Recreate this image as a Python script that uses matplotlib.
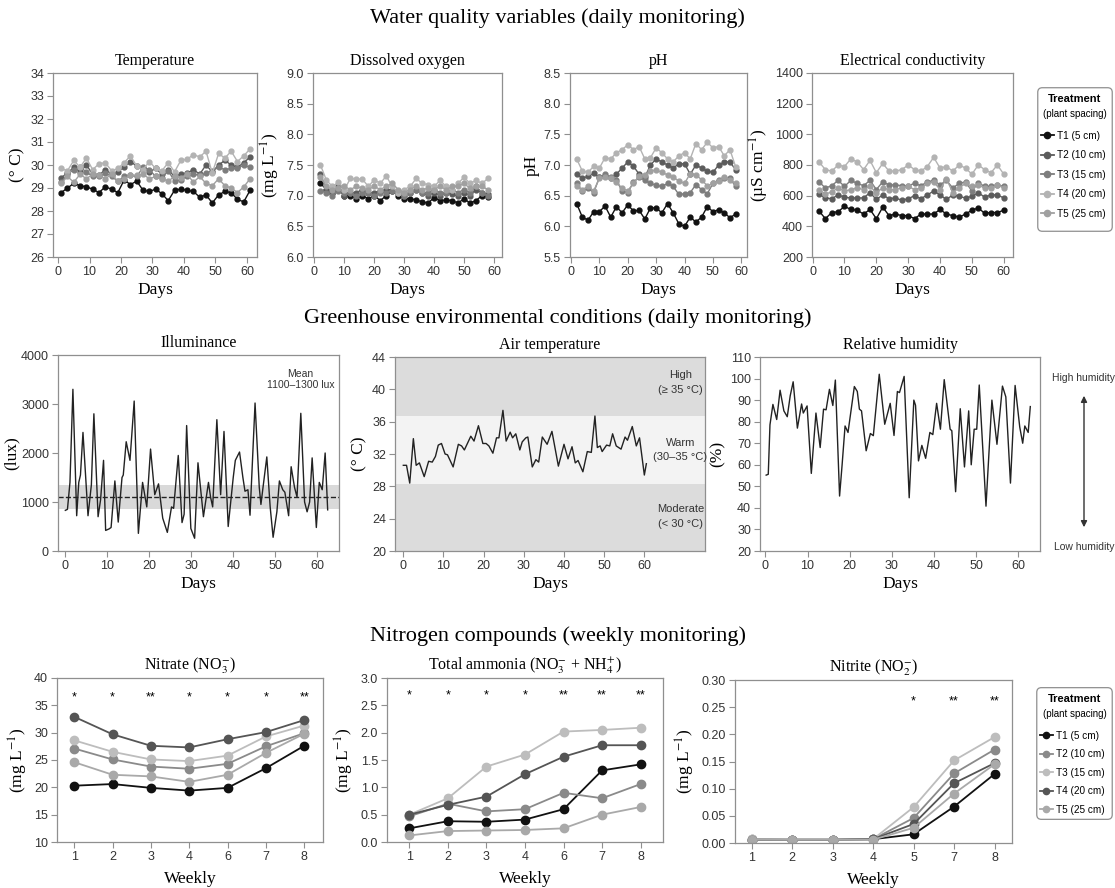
import numpy as np
import matplotlib
matplotlib.use("Agg")
import matplotlib.pyplot as plt
from matplotlib.lines import Line2D
from matplotlib.patches import FancyBboxPatch, FancyArrowPatch

plt.rcParams['font.family'] = ['Liberation Sans', 'DejaVu Sans']
plt.rcParams['mathtext.fontset'] = 'stix'

W, H = 1115, 888
SERIF = ['Liberation Serif', 'DejaVu Serif']

treatments = ['T1 (5 cm)', 'T2 (10 cm)', 'T3 (15 cm)', 'T4 (20 cm)', 'T5 (25 cm)']

# ---- water quality (daily) ----
temp_days = np.arange(1, 62, 2)
temp = [
    [28.8, 29.0, 29.2, 29.1, 29.05, 28.95, 28.8, 29.05, 28.95, 28.8, 29.35, 29.15, 29.3, 28.9, 28.85, 28.95,
     28.75, 28.45, 28.9, 28.95, 28.9, 28.85, 28.6, 28.7, 28.35, 28.7, 28.85, 28.8, 28.5, 28.4, 28.9],
    [29.45, 29.65, 29.9, 29.7, 30.0, 29.6, 29.55, 29.8, 29.6, 29.7, 29.9, 30.15, 29.95, 29.85, 29.7, 29.85,
     29.6, 29.8, 29.5, 29.6, 29.65, 29.8, 29.6, 30.0, 29.7, 30.0, 30.2, 30.0, 29.9, 30.1, 30.35],
    [29.25, 29.6, 29.8, 29.9, 29.7, 29.5, 29.5, 29.65, 29.5, 29.3, 29.5, 29.55, 29.5, 29.9, 29.8, 29.5,
     29.45, 29.75, 29.3, 29.35, 29.5, 29.6, 29.55, 29.65, 29.75, 29.9, 29.8, 29.85, 29.85, 30.0, 29.9],
    [29.85, 29.75, 30.2, 29.9, 30.3, 29.8, 30.05, 30.1, 29.75, 29.85, 30.1, 30.4, 29.95, 29.8, 30.15, 29.85,
     29.75, 30.1, 29.7, 30.2, 30.25, 30.45, 30.35, 30.6, 29.65, 30.5, 30.3, 30.6, 30.15, 30.4, 30.7],
    [29.2, 29.5, 29.25, 29.6, 29.4, 29.6, 29.55, 29.4, 29.6, 29.3, 29.4, 29.55, 29.55, 29.6, 29.4, 29.5,
     29.4, 29.3, 29.5, 29.45, 29.6, 29.25, 29.5, 29.2, 29.1, 29.4, 29.1, 29.0, 28.8, 29.05, 29.4],
]

do_days = np.arange(2, 60, 2)
do = [
    [7.2, 7.1, 7.05, 7.1, 7.0, 7.0, 6.95, 7.0, 6.95, 7.0, 6.92, 7.0, 7.08, 7.0, 6.95, 6.95, 6.93, 6.9, 6.88,
     6.97, 6.92, 6.93, 6.92, 6.88, 6.95, 6.88, 6.92, 7.0, 6.98],
    [7.35, 7.1, 7.05, 7.15, 7.0, 7.05, 7.05, 7.1, 7.05, 7.05, 7.08, 7.1, 7.1, 7.05, 7.0, 7.05, 7.1, 7.05, 7.0,
     7.05, 7.0, 7.05, 7.02, 7.0, 7.05, 7.0, 7.1, 7.05, 7.02],
    [7.08, 7.05, 7.0, 7.08, 7.05, 7.05, 7.0, 7.05, 7.05, 7.0, 7.05, 7.05, 7.08, 7.05, 7.0, 7.05, 7.1, 7.05, 7.05,
     7.1, 7.05, 7.05, 7.1, 7.05, 7.1, 7.05, 7.15, 7.05, 7.0],
    [7.5, 7.25, 7.15, 7.22, 7.1, 7.28, 7.27, 7.27, 7.15, 7.26, 7.2, 7.32, 7.15, 7.05, 7.1, 7.15, 7.28, 7.2, 7.18,
     7.15, 7.25, 7.15, 7.1, 7.2, 7.3, 7.2, 7.25, 7.2, 7.28],
    [7.3, 7.15, 7.1, 7.12, 7.15, 7.1, 7.15, 7.12, 7.1, 7.15, 7.1, 7.15, 7.2, 7.1, 7.05, 7.1, 7.15, 7.1, 7.12,
     7.1, 7.15, 7.1, 7.15, 7.15, 7.2, 7.12, 7.15, 7.15, 7.1],
]

ph_days = np.arange(2, 60, 2)
ph = [
    [6.37, 6.15, 6.1, 6.24, 6.24, 6.33, 6.15, 6.32, 6.22, 6.35, 6.25, 6.26, 6.12, 6.3, 6.3, 6.22, 6.37, 6.22,
     6.04, 6.0, 6.15, 6.07, 6.15, 6.32, 6.24, 6.27, 6.22, 6.14, 6.2],
    [6.85, 6.78, 6.82, 6.87, 6.8, 6.82, 6.78, 6.85, 6.95, 7.05, 6.98, 6.85, 6.8, 7.0, 7.1, 7.05, 7.0, 6.95,
     7.02, 7.02, 6.85, 7.0, 6.95, 6.9, 6.88, 7.0, 7.05, 7.05, 6.92],
    [6.7, 6.57, 6.62, 6.55, 6.8, 6.85, 6.8, 6.75, 6.58, 6.55, 6.72, 6.8, 6.75, 6.7, 6.67, 6.65, 6.7, 6.65,
     6.52, 6.53, 6.55, 6.68, 6.6, 6.53, 6.7, 6.76, 6.78, 6.78, 6.65],
    [7.1, 6.9, 6.88, 6.98, 6.95, 7.12, 7.1, 7.2, 7.25, 7.33, 7.25, 7.3, 7.1, 7.12, 7.28, 7.2, 7.1, 7.05,
     7.15, 7.2, 7.1, 7.35, 7.25, 7.37, 7.28, 7.3, 7.15, 7.25, 6.97],
    [6.65, 6.6, 6.65, 6.58, 6.78, 6.8, 6.78, 6.72, 6.62, 6.58, 6.7, 6.82, 6.84, 6.9, 6.92, 6.88, 6.84, 6.8,
     6.74, 6.7, 6.86, 6.84, 6.76, 6.66, 6.7, 6.74, 6.8, 6.76, 6.7],
]

ec_days = np.arange(2, 61, 2)
ec = [
    [500, 450, 490, 495, 530, 510, 505, 480, 510, 450, 525, 470, 480, 470, 470, 450, 480, 480, 480, 510,
     480, 470, 460, 480, 505, 520, 485, 490, 490, 505],
    [610, 585, 580, 605, 590, 585, 585, 585, 620, 575, 605, 580, 585, 570, 580, 600, 580, 605, 630, 605,
     575, 605, 595, 585, 595, 620, 590, 605, 605, 585],
    [690, 650, 665, 700, 660, 700, 680, 665, 700, 640, 690, 670, 670, 665, 665, 680, 665, 690, 700, 670,
     700, 650, 680, 690, 630, 685, 660, 660, 670, 660],
    [820, 770, 760, 800, 790, 840, 820, 770, 830, 750, 810, 760, 760, 770, 800, 770, 760, 790, 850, 780,
     790, 760, 800, 780, 740, 800, 770, 750, 800, 740],
    [640, 610, 625, 650, 630, 640, 650, 640, 660, 620, 650, 640, 640, 650, 660, 640, 650, 680, 690, 640,
     710, 620, 650, 680, 660, 670, 650, 650, 670, 650],
]

# ---- greenhouse (daily) ----
lux_days = [0.0, 0.5, 1.1, 1.8, 2.7, 3.2, 3.6, 4.2, 5.4, 6.2, 6.8, 7.8, 8.4, 9.1, 9.6, 10.4, 10.9, 11.8,
            12.6, 13.5, 13.8, 14.5, 15.4, 16.4, 17.4, 18.4, 19.4, 20.3, 21.3, 22.2, 23.2, 24.3, 25.3, 25.8,
            26.9, 27.8, 28.3, 28.9, 29.9, 30.8, 31.6, 32.9, 34.1, 34.6, 35.1, 36.1, 37.0, 37.8, 38.8, 40.0,
            40.5, 41.5, 42.3, 42.8, 43.5, 44.0, 45.2, 46.2, 46.6, 47.1, 48.0, 48.8, 49.5, 50.4, 51.0, 51.8,
            52.3, 53.2, 53.8, 54.6, 55.2, 56.1, 57.0, 57.6, 58.2, 58.8, 59.8, 60.5, 61.2, 61.9, 62.5]
lux = [830, 850, 1400, 3300, 720, 1400, 1550, 2420, 720, 1350, 2800, 700, 1050, 1850, 420, 450, 480, 1430,
       590, 1500, 1550, 2230, 1850, 3060, 360, 1400, 900, 2080, 1150, 1370, 670, 380, 900, 870,
       1950, 580, 750, 2560, 460, 260, 1800, 700, 1400, 1100, 900, 2680, 1150, 2440, 500, 1500,
       1850, 2020, 1500, 1220, 1250, 730, 3020, 1300, 950, 1300, 1920, 900, 280, 800, 1430, 1250,
       1200, 720, 1720, 1300, 1100, 2810, 1000, 800, 1000, 1900, 480, 1400, 1250, 2000, 840]
lux_band = (850, 1350)
lux_mean = 1100

air_days = [0, 0.8, 1.6, 2.5, 3.2, 4.0, 5.2, 6.3, 7.2, 8.0, 8.7, 9.5, 10.4, 11.0, 12.4, 13.7, 14.5, 15.2,
            16.8, 17.6, 18.7, 19.8, 20.6, 21.3, 22.3, 23.2, 23.8, 24.8, 25.6, 26.6, 27.2, 28.0, 29.0, 29.6,
            30.5, 31.0, 32.1, 33.0, 33.7, 34.6, 35.8, 37.0, 38.6, 40.0, 41.0, 42.0, 42.8, 43.5, 44.7, 45.8,
            46.8, 47.7, 48.3, 49.0, 49.5, 50.6, 51.4, 52.1, 53.0, 54.2, 55.2, 55.8, 57.0, 58.0, 58.8, 60.0, 60.5]
air_temp = [30.6, 30.6, 28.4, 33.9, 30.6, 30.9, 29.2, 31.1, 31.0, 31.7, 33.1, 33.3, 32.0, 31.9, 30.4, 33.2,
            33.0, 32.5, 34.2, 33.6, 35.5, 33.3, 33.3, 33.0, 32.1, 34.0, 34.0, 37.4, 33.6, 34.7, 34.0, 34.5,
            32.5, 33.5, 34.0, 34.1, 30.4, 31.3, 31.0, 34.1, 33.2, 34.8, 30.5, 33.2, 31.4, 32.9, 30.9, 31.2,
            29.8, 32.3, 32.2, 36.7, 32.8, 33.0, 32.3, 33.1, 33.0, 34.5, 33.0, 32.6, 34.1, 33.7, 35.4, 33.0,
            34.0, 29.4, 30.8]
air_zones = [(28.3, 36.7)]

rh_days = [0.2, 0.7, 1.1, 1.8, 2.7, 3.5, 4.4, 5.2, 5.9, 6.6, 7.6, 8.6, 9.0, 9.9, 10.9, 12.0, 13.0, 13.8,
           14.4, 15.2, 16.0, 16.6, 17.6, 18.2, 18.9, 19.6, 21.1, 21.8, 22.3, 22.8, 23.9, 24.9, 25.6, 27.0,
           28.3, 29.6, 30.5, 31.3, 31.8, 32.9, 34.1, 35.2, 35.6, 36.3, 37.1, 38.0, 39.0, 39.7, 40.6, 41.5,
           42.4, 43.8, 44.2, 45.1, 46.2, 47.2, 48.2, 48.8, 49.5, 50.1, 50.7, 52.3, 53.7, 54.9, 56.2, 57.0,
           58.1, 59.2, 60.3, 61.0, 61.5, 62.3, 62.8]
rh = [55.2, 55.6, 78.5, 88.0, 81.0, 94.6, 85.0, 82.3, 92.0, 98.5, 77.0, 88.2, 84.0, 87.3, 56.0, 84.0, 68.0,
      85.8, 85.5, 95.0, 87.5, 99.3, 45.5, 60.0, 78.0, 75.0, 96.3, 94.0, 85.8, 85.0, 66.5, 74.5, 73.5, 102.0,
      78.8, 88.5, 73.6, 94.0, 93.5, 101.0, 44.7, 90.0, 87.6, 61.8, 69.0, 63.0, 75.0, 74.0, 88.5, 76.5,
      99.5, 76.5, 75.8, 47.5, 86.0, 59.0, 85.0, 60.0, 76.5, 76.5, 97.0, 40.8, 90.0, 69.5, 96.5, 91.5,
      51.5, 96.8, 77.5, 70.0, 78.0, 75.0, 87.0]

# ---- nitrogen (weekly) ----
nitrate_weeks = ['1', '2', '3', '4', '6', '7', '8']
nitrate = [
    [20.3, 20.6, 19.9, 19.4, 19.9, 23.5, 27.6],
    [27.1, 25.1, 23.8, 23.4, 24.3, 27.5, 29.9],
    [28.6, 26.5, 25.1, 24.8, 25.8, 29.3, 31.3],
    [32.9, 29.7, 27.6, 27.3, 28.8, 30.1, 32.3],
    [24.6, 22.3, 22.0, 21.0, 22.3, 26.3, 29.8],
]
nitrate_sig = ['*', '*', '**', '*', '*', '*', '**']

ammonia_weeks = ['1', '2', '3', '4', '6', '7', '8']
ammonia = [
    [0.25, 0.38, 0.37, 0.41, 0.60, 1.31, 1.42],
    [0.47, 0.70, 0.56, 0.60, 0.90, 0.80, 1.06],
    [0.50, 0.80, 1.38, 1.60, 2.02, 2.05, 2.09],
    [0.50, 0.68, 0.83, 1.24, 1.56, 1.77, 1.77],
    [0.12, 0.20, 0.21, 0.22, 0.25, 0.50, 0.64],
]
ammonia_sig = ['*', '*', '*', '*', '**', '**', '**']

nitrite_weeks = ['1', '2', '3', '4', '5', '7', '8']
nitrite = [
    [0.006, 0.006, 0.006, 0.007, 0.016, 0.067, 0.127],
    [0.007, 0.006, 0.006, 0.007, 0.046, 0.128, 0.172],
    [0.007, 0.006, 0.006, 0.007, 0.066, 0.152, 0.195],
    [0.006, 0.006, 0.006, 0.007, 0.035, 0.110, 0.147],
    [0.006, 0.006, 0.006, 0.006, 0.028, 0.091, 0.145],
]
nitrite_sig = ['', '', '', '', '*', '**', '**']

daily_colors = ['#111111', '#5c5c5c', '#7d7d7d', '#b3b3b3', '#a0a0a0']
weekly_colors = ['#111111', '#8a8a8a', '#bdbdbd', '#555555', '#a9a9a9']

fig = plt.figure(figsize=(W / 100, H / 100), dpi=100)


def box(l, t, r, b):
    return fig.add_axes([l / W, 1 - b / H, (r - l) / W, (b - t) / H])


def style(ax, title, ylabel, xlabel, ypad=3):
    for s in ax.spines.values():
        s.set_color('#8f8f8f')
        s.set_linewidth(0.9)
    ax.tick_params(direction='out', length=4, width=0.8, color='#8f8f8f',
                   labelsize=9, labelcolor='#333333', pad=2.5)
    ax.set_title(title, family=SERIF, fontsize=11.5, pad=6)
    ax.set_ylabel(ylabel, family=SERIF, fontsize=12.5, labelpad=ypad)
    ax.set_xlabel(xlabel, family=SERIF, fontsize=12.5, labelpad=3)


def daily_panel(rect, days, series, title, ylabel, ylim, yticks, xlim, fmt=None):
    ax = box(*rect)
    for vals, c in zip(series, daily_colors):
        ax.plot(days, vals, color=c, lw=1.0, marker='o', ms=3.5)
    ax.set_xlim(*xlim)
    ax.set_ylim(*ylim)
    ax.set_xticks(range(0, 61, 10))
    ax.set_yticks(yticks)
    if fmt:
        ax.set_yticklabels([fmt % v for v in yticks])
    style(ax, title, ylabel, 'Days')
    return ax


def weekly_panel(rect, weeks, series, sig, sig_y, err, title, ylim, yticks, xlim, fmt):
    ax = box(*rect)
    x = np.arange(len(weeks))
    for vals, c in zip(series, weekly_colors):
        ax.errorbar(x, vals, yerr=err, color=c, lw=1.3, marker='o', ms=6,
                    elinewidth=1, capsize=0)
    for xi, s in zip(x, sig):
        ax.text(xi, sig_y, s, ha='center', va='center', fontsize=9)
    ax.set_xticks(x)
    ax.set_xticklabels(weeks)
    ax.set_xlim(*xlim)
    ax.set_ylim(*ylim)
    ax.set_yticks(yticks)
    ax.set_yticklabels([fmt % v for v in yticks])
    style(ax, title, '(mg L$^{-1}$)', 'Weekly')
    ax.xaxis.labelpad = 6
    return ax


def legend_box(l, t, r, b, colors, step):
    lax = box(l, t, r, b)
    lax.axis('off')
    lax.set_xlim(0, 1)
    lax.set_ylim(0, 1)
    lax.add_patch(FancyBboxPatch((0.01, 0.005), 0.98, 0.99, boxstyle='round,pad=0,rounding_size=0.06',
                                 mutation_aspect=(r - l) / (b - t), fc='white', ec='#8f8f8f', lw=0.9))
    hgt = b - t
    lax.text(0.5, 1 - 12 / hgt, 'Treatment', weight='bold', ha='center', va='center', fontsize=8)
    lax.text(0.5, 1 - 27 / hgt, '(plant spacing)', ha='center', va='center', fontsize=7)
    handles = [Line2D([], [], color=c, lw=1.3, marker='o', ms=4.5) for c in colors]
    lax.legend(handles, treatments, loc='upper left', bbox_to_anchor=(0.0, 1 - 40 / hgt),
               frameon=False, fontsize=7.2, handlelength=1.3, handletextpad=0.35,
               labelspacing=step, borderaxespad=0.25, borderpad=0.1)


# ---- row 1 ----
fig.text(0.5, 1 - 18 / H, 'Water quality variables (daily monitoring)', family=SERIF,
         fontsize=16, ha='center', va='center')
daily_panel((53, 73, 257, 257), temp_days, temp, 'Temperature', '(° C)', (26, 34),
            range(26, 35), (-1.6, 63.2))
daily_panel((313, 73, 502, 257), do_days, do, 'Dissolved oxygen', '(mg L$^{-1}$)', (6, 9),
            np.arange(6, 9.01, 0.5), (-0.5, 62.7), '%.1f')
daily_panel((570, 73, 747, 257), ph_days, ph, 'pH', 'pH', (5.5, 8.5),
            np.arange(5.5, 8.51, 0.5), (-0.35, 62.0), '%.1f')
daily_panel((812, 73, 1013, 257), ec_days, ec, 'Electrical conductivity', '(µS cm$^{-1}$)', (200, 1400),
            range(200, 1401, 200), (-0.2, 62.9))
legend_box(1037, 87, 1113, 232, daily_colors, 0.95)

# ---- row 2 ----
fig.text(0.5, 1 - 318 / H, 'Greenhouse environmental conditions (daily monitoring)', family=SERIF,
         fontsize=16, ha='center', va='center')

ax = box(58, 355, 339, 551)
ax.axhspan(*lux_band, color='#d9d9d9', lw=0)
ax.axhline(lux_mean, color='#222222', ls='--', lw=1)
ax.plot(lux_days, lux, color='#222222', lw=1)
ax.text(56, 3500, 'Mean\n1100–1300 lux', ha='center', va='center', fontsize=7.5, color='#333333')
ax.set_xlim(-1.75, 65.2)
ax.set_ylim(0, 4000)
ax.set_xticks(range(0, 61, 10))
ax.set_yticks(range(0, 4001, 1000))
style(ax, 'Illuminance', '(lux)', 'Days', ypad=1)

ax = box(395, 357, 705, 551)
ax.set_facecolor('#dcdcdc')
for lo, hi in air_zones:
    ax.axhspan(lo, hi, color='#f3f3f3', lw=0)
ax.plot(air_days, air_temp, color='#222222', lw=1)
ax.text(69, 40.8, 'High\n(≥ 35 °C)', ha='center', va='center', fontsize=8, color='#333333', linespacing=1.6)
ax.text(69, 32.5, 'Warm\n(30–35 °C)', ha='center', va='center', fontsize=8, color='#333333', linespacing=1.6)
ax.text(69, 24.3, 'Moderate\n(< 30 °C)', ha='center', va='center', fontsize=8, color='#333333', linespacing=1.6)
ax.set_xlim(-2.07, 75.1)
ax.set_ylim(20, 44)
ax.set_xticks(range(0, 61, 10))
ax.set_yticks(range(20, 45, 4))
style(ax, 'Air temperature', '(° C)', 'Days')

ax = box(760, 357, 1040, 551)
ax.plot(rh_days, rh, color='#222222', lw=1)
ax.set_xlim(-1.26, 65.1)
ax.set_ylim(20, 110)
ax.set_xticks(range(0, 61, 10))
ax.set_yticks(range(20, 111, 10))
style(ax, 'Relative humidity', '(%)', 'Days')

fig.text(1084 / W, 1 - 378 / H, 'High humidity', ha='center', va='center', fontsize=7.5, color='#333333')
fig.text(1084 / W, 1 - 547 / H, 'Low humidity', ha='center', va='center', fontsize=7.5, color='#333333')
fig.add_artist(FancyArrowPatch((1084 / W, 1 - 530 / H), (1084 / W, 1 - 393 / H),
                               transform=fig.transFigure, arrowstyle='<|-|>',
                               mutation_scale=9, color='#333333', lw=1))

# ---- row 3 ----
fig.text(0.5, 1 - 636 / H, 'Nitrogen compounds (weekly monitoring)', family=SERIF,
         fontsize=16, ha='center', va='center')
weekly_panel((57, 678, 323, 842), nitrate_weeks, nitrate, nitrate_sig, 36.5, 0.6,
             r'Nitrate (NO$_3^{-}$)', (10, 40), np.arange(10, 41, 5), (-0.45, 6.49), '%d')
weekly_panel((387, 678, 663, 842), ammonia_weeks, ammonia, ammonia_sig, 2.68, 0.05,
             r'Total ammonia (NO$_3^{-}$ + NH$_4^{+}$)', (0, 3), np.arange(0, 3.01, 0.5), (-0.58, 6.58), '%.1f')
weekly_panel((735, 680, 1012, 843), nitrite_weeks, nitrite, nitrite_sig, 0.26, 0.005,
             r'Nitrite (NO$_2^{-}$)', (0, 0.30), np.arange(0, 0.301, 0.05), (-0.41, 6.43), '%.2f')
legend_box(1036, 687, 1113, 820, weekly_colors, 0.85)

fig.savefig('out.png', dpi=100, facecolor='white')
